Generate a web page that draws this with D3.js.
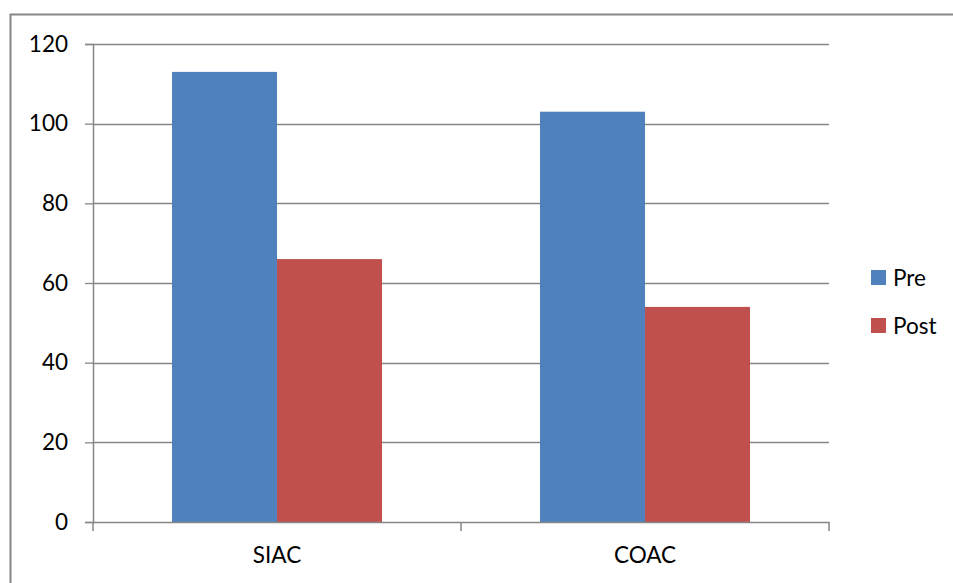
<!DOCTYPE html>
<html>
<head>
<meta charset="utf-8">
<script src="https://cdn.jsdelivr.net/npm/d3@7"></script>
<style>
  html, body { margin: 0; padding: 0; background: #fff; }
  svg { display: block; }
  text { font-family: Lato, "Open Sans", sans-serif; fill: #000; }
</style>
</head>
<body>
<svg id="chart" width="953" height="583"></svg>
<script>
// Chart data
const categories = ["SIAC", "COAC"];
const seriesNames = ["Pre", "Post"];
const preValues = [113, 103];
const postValues = [66, 54];
const yTicks = [0, 20, 40, 60, 80, 100, 120];
const seriesColors = ["#4F81BD", "#C0504D"];

const svg = d3.select("#chart");
const W = 953, H = 583;
const plot = { left: 93, right: 829, top: 44, bottom: 522 };
const axisColor = "#868686";
const fontSize = 22.5;

// Outer chart frame
svg.append("rect")
  .attr("x", 10.5).attr("y", 14.5)
  .attr("width", W).attr("height", H)
  .attr("fill", "none").attr("stroke", axisColor).attr("stroke-width", 2);

const x0 = d3.scaleBand().domain(categories)
  .range([plot.left, plot.right]).paddingInner(0).paddingOuter(0);
const barWidth = 105;
const x1 = d3.scaleBand().domain(seriesNames)
  .range([0, barWidth * 2]).padding(0);
const y = d3.scaleLinear().domain([0, 120]).range([plot.bottom, plot.top]);

// Gridlines
svg.append("g").selectAll("line")
  .data(yTicks.filter(t => t > 0))
  .join("line")
  .attr("x1", plot.left).attr("x2", plot.right)
  .attr("y1", d => Math.round(y(d)) + 0.5).attr("y2", d => Math.round(y(d)) + 0.5)
  .attr("stroke", axisColor).attr("stroke-width", 1.3);

// Bars
const data = categories.map((c, i) => ({ cat: c, vals: [preValues[i], postValues[i]] }));
const groups = svg.append("g").selectAll("g")
  .data(data).join("g")
  .attr("transform", d => `translate(${x0(d.cat) + (x0.bandwidth() - barWidth * 2) / 2},0)`);
groups.selectAll("rect")
  .data(d => d.vals.map((v, j) => ({ s: seriesNames[j], v, j })))
  .join("rect")
  .attr("x", d => x1(d.s))
  .attr("width", x1.bandwidth())
  .attr("y", d => y(d.v))
  .attr("height", d => y(0) - y(d.v))
  .attr("fill", d => seriesColors[d.j]);

// Y axis
const yAxis = d3.axisLeft(y).tickValues(yTicks).tickSize(8).tickPadding(17);
const gy = svg.append("g").attr("transform", `translate(${plot.left},0)`).call(yAxis);
gy.select(".domain").attr("stroke", axisColor).attr("stroke-width", 1.5);
gy.selectAll(".tick line").attr("stroke", axisColor).attr("stroke-width", 1.3);
gy.selectAll(".tick text").attr("font-size", fontSize).attr("font-family", "Lato, sans-serif").attr("fill", "#000");

// X axis
const xAxis = d3.axisBottom(x0).tickSize(0).tickPadding(25);
const gx = svg.append("g").attr("transform", `translate(0,${plot.bottom})`).call(xAxis);
gx.select(".domain").attr("stroke", axisColor).attr("stroke-width", 1.5);
gx.selectAll(".tick text").attr("font-size", fontSize).attr("font-family", "Lato, sans-serif").attr("fill", "#000");

// Category boundary ticks
const boundaries = [plot.left, x0(categories[1]), plot.right];
svg.append("g").selectAll("line")
  .data(boundaries).join("line")
  .attr("x1", d => d).attr("x2", d => d)
  .attr("y1", plot.bottom).attr("y2", plot.bottom + 9)
  .attr("stroke", axisColor).attr("stroke-width", 1.5);

// Legend
const legend = svg.append("g").attr("transform", "translate(871,270)");
const items = legend.selectAll("g").data(seriesNames).join("g")
  .attr("transform", (d, i) => `translate(0,${i * 48})`);
items.append("rect").attr("width", 15).attr("height", 15)
  .attr("fill", (d, i) => seriesColors[i]);
items.append("text").attr("x", 22).attr("y", 15.5)
  .attr("font-size", fontSize).text(d => d);
</script>
</body>
</html>
